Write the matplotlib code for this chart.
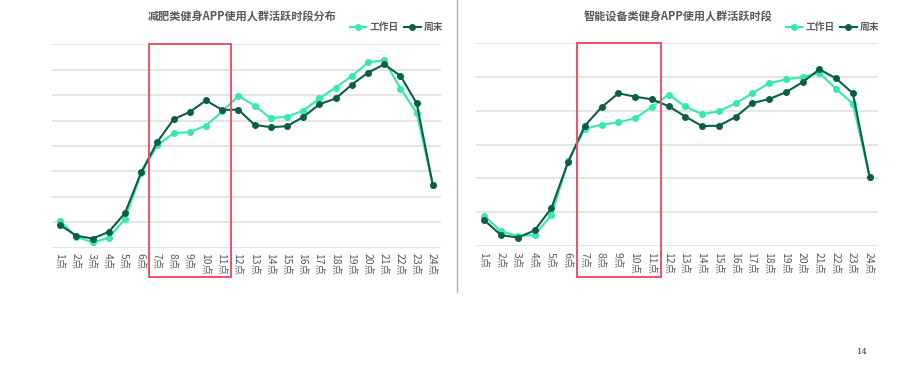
import matplotlib
matplotlib.use('Agg')
import matplotlib.pyplot as plt
from matplotlib.patches import Rectangle

plt.rcParams['font.family'] = ['Noto Sans CJK SC', 'DejaVu Sans']

# Hours 1-24
hours = [f'{h}点' for h in range(1, 25)]

# Left chart: weight-loss fitness apps (grid units, no y labels in the source)
diet_workday = [1.05, 0.43, 0.21, 0.38, 1.13, 2.93, 4.03, 4.50, 4.55, 4.80, 5.36, 5.97,
                5.59, 5.09, 5.16, 5.39, 5.87, 6.30, 6.75, 7.29, 7.37, 6.26, 5.30, 2.45]
diet_weekend = [0.89, 0.47, 0.36, 0.62, 1.36, 2.96, 4.16, 5.05, 5.34, 5.79, 5.42, 5.43,
                4.83, 4.74, 4.78, 5.14, 5.64, 5.87, 6.41, 6.89, 7.21, 6.76, 5.68, 2.45]

# Right chart: smart-device fitness apps
device_workday = [0.89, 0.43, 0.30, 0.32, 0.92, 2.51, 3.47, 3.59, 3.66, 3.78, 4.12, 4.48,
                  4.13, 3.90, 3.99, 4.22, 4.52, 4.82, 4.93, 5.00, 5.12, 4.65, 4.21, 2.04]
device_weekend = [0.76, 0.32, 0.25, 0.46, 1.12, 2.49, 3.56, 4.11, 4.52, 4.42, 4.34, 4.14,
                  3.83, 3.55, 3.56, 3.82, 4.23, 4.35, 4.55, 4.85, 5.23, 4.96, 4.52, 2.04]

light = '#34EBAA'
dark = '#0A5E4B'
text_color = '#595959'

fig = plt.figure(figsize=(9, 3.75), dpi=100)


def draw(ax, workday, weekend, ymax, box_bottom, title, title_x, legend_x):
    x = list(range(len(hours)))
    for y in range(ymax + 1):
        ax.axhline(y, color='#E3E3E3', lw=1.3, zorder=0)
    ax.plot(x, workday, color=light, lw=1.5, marker='o', ms=4, label='工作日', zorder=3)
    ax.plot(x, weekend, color=dark, lw=1.5, marker='o', ms=4, label='周末', zorder=4)
    ax.set_xlim(-0.5, 23.5)
    ax.set_ylim(0, ymax)
    ax.set_yticks([])
    ax.set_xticks(x)
    ax.set_xticklabels(hours, rotation=270, fontsize=7.5, color=text_color)
    ax.tick_params(axis='x', length=0, pad=4)
    for s in ax.spines.values():
        s.set_visible(False)
    # highlight box 7点-11点
    rect = Rectangle((5.5, box_bottom), 5.05, 1 - box_bottom,
                     transform=ax.get_xaxis_transform(), fill=False,
                     edgecolor='#EE5068', lw=1.4, clip_on=False, zorder=5)
    ax.add_patch(rect)
    fig.text(title_x, 1 - 17 / 375, title, ha='center', va='center',
             fontsize=8, fontweight='bold', color=text_color)
    ax.legend(loc='center right', bbox_to_anchor=(legend_x, 1 - 27 / 375),
              bbox_transform=fig.transFigure, ncol=2, frameon=False,
              handlelength=1.7, handletextpad=0.3, columnspacing=0.6,
              borderaxespad=0, labelcolor=text_color,
              prop={'weight': 'bold', 'size': 7})


ax1 = fig.add_axes([52 / 900, 1 - 247.7 / 375, 389 / 900, 203.4 / 375])
draw(ax1, diet_workday, diet_weekend, 8, -0.143,
     '减肥类健身APP使用人群活跃时段分布', 242.5 / 900, 447 / 900)

ax2 = fig.add_axes([476 / 900, 1 - 246 / 375, 402 / 900, 202.7 / 375])
draw(ax2, device_workday, device_weekend, 6, -0.151,
     '智能设备类健身APP使用人群活跃时段', 677.5 / 900, 883 / 900)

# divider between the two charts
fig.add_artist(plt.Line2D([457 / 900, 457 / 900], [1, 1 - 292 / 375],
                          transform=fig.transFigure, color='#A9B0BC', lw=1))

fig.text(862 / 900, 1 - 352 / 375, '14', fontsize=6, family='DejaVu Serif',
         ha='center', va='center', color='#333333')

fig.savefig('out.png', dpi=100)
